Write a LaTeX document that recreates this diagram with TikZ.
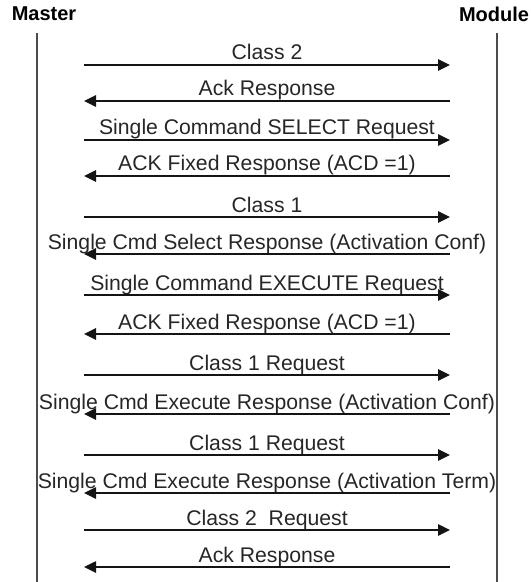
\documentclass[tikz,border=0pt]{standalone}
\usepackage{fontspec}
\setmainfont{Liberation Sans}
\usetikzlibrary{arrows.meta}
\begin{document}
\begin{tikzpicture}[x=1bp,y=-1bp,
  lifeline/.style={draw=black!70,line width=1.1bp},
  actor/.style={font=\fontsize{20bp}{24bp}\selectfont\bfseries,inner sep=0pt},
  msg/.style={draw=black!92,line width=2.5bp,-{Triangle[length=12bp,width=11bp]}},
  msglabel/.style={font=\fontsize{21.2bp}{24bp}\selectfont,text=black!85,inner sep=0pt,anchor=base}]
\useasboundingbox (0,0) rectangle (531,582);
\node[actor] (master) at (44,14) {Master};
\node[actor] (module) at (494,14) {Module};
\coordinate (mtop) at (37,33);
\coordinate (mbot) at (37,582);
\coordinate (otop) at (497,33);
\coordinate (obot) at (497,582);
\draw[lifeline] (mtop) -- (mbot);
\draw[lifeline] (otop) -- (obot);
\foreach \i/\y/\dir/\txt in {
  1/65/r/{Class 2},
  2/101/l/{Ack Response},
  3/140/r/{Single Command SELECT Request},
  4/176/l/{ACK Fixed Response (ACD =1)},
  5/217/r/{Class 1},
  6/254/l/{Single Cmd Select Response (Activation Conf)},
  7/295/r/{Single Command EXECUTE Request},
  8/334/l/{ACK Fixed Response (ACD =1)},
  9/375/r/{Class 1 Request},
  10/414/l/{Single Cmd Execute Response (Activation Conf)},
  11/455/r/{Class 1 Request},
  12/493/l/{Single Cmd Execute Response (Activation Term)},
  13/530/r/{Class 2\ \ Request},
  14/567/l/{Ack Response}}{
  \coordinate (L\i) at (84,\y);
  \coordinate (R\i) at (450,\y);
  \node[msglabel] (t\i) at (267,\y-5) {\txt};
  \if r\dir
    \draw[msg] (L\i) -- (R\i);
  \else
    \draw[msg] (R\i) -- (L\i);
  \fi
}
\end{tikzpicture}
\end{document}
